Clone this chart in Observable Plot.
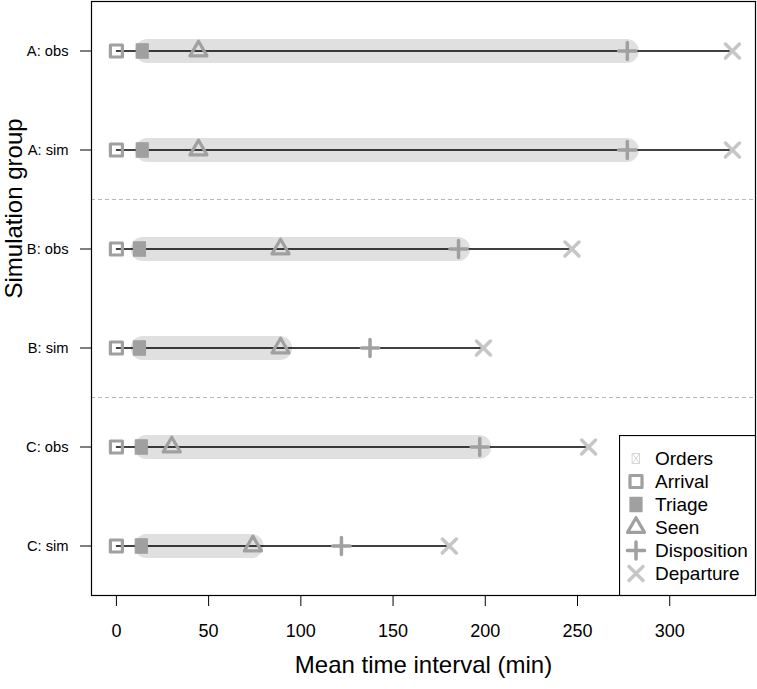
<!DOCTYPE html>
<html>
<head>
<meta charset="utf-8">
<script src="https://cdn.jsdelivr.net/npm/d3@7"></script>
<script src="https://cdn.jsdelivr.net/npm/@observablehq/plot@0.6"></script>
<style>
  html, body { margin: 0; padding: 0; background: #fff; }
  #wrap { position: relative; width: 757px; height: 689px; font-family: "Liberation Sans", Arial, Helvetica, sans-serif; }
</style>
</head>
<body>
<div id="wrap"></div>
<script>
// ---- data ----
const groups = ["A: obs", "A: sim", "B: obs", "B: sim", "C: obs", "C: sim"];
const arrival = [0, 0, 0, 0, 0, 0];
const triage = [14, 14, 12.5, 12.5, 13.5, 13.5];
const seen = [44.5, 44.5, 89, 89, 30, 74];
const disposition = [277, 277, 185.5, 137.5, 197, 122];
const departure = [334, 334, 247, 199, 256, 180.5];
const ordersStart = [17, 17, 14.5, 14.5, 16.5, 16.5];
const ordersEnd = [277, 277, 185.5, 89, 197, 73.5];
const xTicks = [0, 50, 100, 150, 200, 250, 300];
const legendLabels = ["Orders", "Arrival", "Triage", "Seen", "Disposition", "Departure"];

const rows = groups.map((g, i) => ({
  idx: i + 1, group: g,
  arrival: arrival[i], triage: triage[i], seen: seen[i],
  disposition: disposition[i], departure: departure[i],
  ordersStart: ordersStart[i], ordersEnd: ordersEnd[i]
}));
// separators between letter groups
const dividers = [];
for (let i = 0; i < groups.length - 1; i++) {
  if (groups[i][0] !== groups[i + 1][0]) dividers.push(i + 1.5);
}

// ---- symbols (R pch look-alikes) ----
const symArrival = {draw(c) { c.moveTo(-6, -6); c.lineTo(6, -6); c.lineTo(6, 6); c.lineTo(-6, 6); c.closePath(); }};
const symTriage = {draw(c) { c.moveTo(-6, -7.2); c.lineTo(6, -7.2); c.lineTo(6, 7.2); c.lineTo(-6, 7.2); c.closePath(); }};
const symSeen = {draw(c) { c.moveTo(0, -9.8); c.lineTo(8.5, 4.9); c.lineTo(-8.5, 4.9); c.closePath(); }};
const symDisp = {draw(c) { c.moveTo(-8.6, 0); c.lineTo(8.6, 0); c.moveTo(0, -8.6); c.lineTo(0, 8.6); }};
const symDep = {draw(c) { c.moveTo(-7, -7); c.lineTo(7, 7); c.moveTo(-7, 7); c.lineTo(7, -7); }};
const symOrders = {draw(c) { c.moveTo(-3.5, -5); c.lineTo(3.5, -5); c.lineTo(3.5, 5); c.lineTo(-3.5, 5); c.closePath(); c.moveTo(-3.5, -5); c.lineTo(3.5, 5); c.moveTo(-3.5, 5); c.lineTo(3.5, -5); }};

const GRAY = "#a0a0a0", LIGHT = "#c6c6c6", BAR = "#e0e0e0";

const styles = {
  Orders:      {sym: symOrders, fill: "none", stroke: "#d6d6d6", sw: 1},
  Arrival:     {sym: symArrival, fill: "none", stroke: GRAY, sw: 3.2},
  Triage:      {sym: symTriage, fill: GRAY, stroke: GRAY, sw: 1.2},
  Seen:        {sym: symSeen, fill: "none", stroke: GRAY, sw: 3.2},
  Disposition: {sym: symDisp, fill: "none", stroke: GRAY, sw: 3.5},
  Departure:   {sym: symDep, fill: "none", stroke: LIGHT, sw: 3.5}
};

const dotMark = (field, key) => Plot.dot(rows, {
  x: field, y: "idx", symbol: styles[key].sym,
  fill: styles[key].fill, stroke: styles[key].stroke, strokeWidth: styles[key].sw,
  strokeLinejoin: "round", strokeLinecap: "round"
});

const chart = Plot.plot({
  width: 757, height: 689,
  marginLeft: 91, marginRight: 2, marginTop: 1, marginBottom: 94,
  style: {fontFamily: "'Liberation Sans', Arial, Helvetica, sans-serif", fontSize: "14.7px", background: "white", color: "black"},
  x: {domain: [-13.5, 346.5]},
  y: {domain: [6.5, 0.5]},
  marks: [
    Plot.ruleY(dividers, {stroke: "#b8b8b8", strokeDasharray: "4,3", strokeWidth: 1}),
    Plot.ruleY(rows, {y: "idx", x1: "ordersStart", x2: "ordersEnd", stroke: BAR, strokeWidth: 24, strokeLinecap: "round"}),
    Plot.ruleY(rows, {y: "idx", x1: "arrival", x2: "departure", stroke: "black", strokeWidth: 1.5}),
    dotMark("arrival", "Arrival"),
    dotMark("triage", "Triage"),
    dotMark("seen", "Seen"),
    dotMark("disposition", "Disposition"),
    dotMark("departure", "Departure"),
    Plot.frame({stroke: "black", strokeWidth: 1.2}),
    Plot.axisX({ticks: xTicks, tickSize: 11, tickPadding: 18, fontSize: 18, label: null, tickFormat: d => String(d)}),
    Plot.axisY({ticks: rows.map(r => r.idx), tickFormat: d => groups[d - 1], tickSize: 11, tickPadding: 12, fontSize: 14.7, label: null}),
    Plot.text(["Mean time interval (min)"], {frameAnchor: "bottom", dy: 70, fontSize: 24, lineAnchor: "middle", fill: "black"}),
    Plot.text(["Simulation group"], {frameAnchor: "left", dx: -77, rotate: -90, fontSize: 24, lineAnchor: "middle", fill: "black"})
  ]
});

const wrap = document.getElementById("wrap");
chart.style.position = "absolute";
chart.style.left = "0px";
chart.style.top = "0px";
wrap.appendChild(chart);

// ---- legend overlay ----
const leg = d3.create("svg")
  .attr("width", 137).attr("height", 161)
  .style("position", "absolute").style("left", "618.5px").style("top", "434.5px")
  .style("font-family", "'Liberation Sans', Arial, Helvetica, sans-serif");
leg.append("rect").attr("x", 0.5).attr("y", 0.5).attr("width", 136).attr("height", 160)
  .attr("fill", "white").attr("stroke", "black").attr("stroke-width", 1.2);
legendLabels.forEach((lab, i) => {
  const s = styles[lab];
  const g = leg.append("g").attr("transform", `translate(17,${23.5 + 23 * i})`);
  const p = d3.path();
  s.sym.draw(p, 0);
  g.append("path").attr("d", p.toString())
    .attr("fill", s.fill).attr("stroke", s.stroke).attr("stroke-width", s.sw)
    .attr("stroke-linejoin", "round").attr("stroke-linecap", "round");
  g.append("text").attr("x", 19).attr("y", 0).attr("dy", "0.35em")
    .attr("font-size", 19).attr("fill", "black").text(lab);
});
wrap.appendChild(leg.node());
</script>
</body>
</html>
